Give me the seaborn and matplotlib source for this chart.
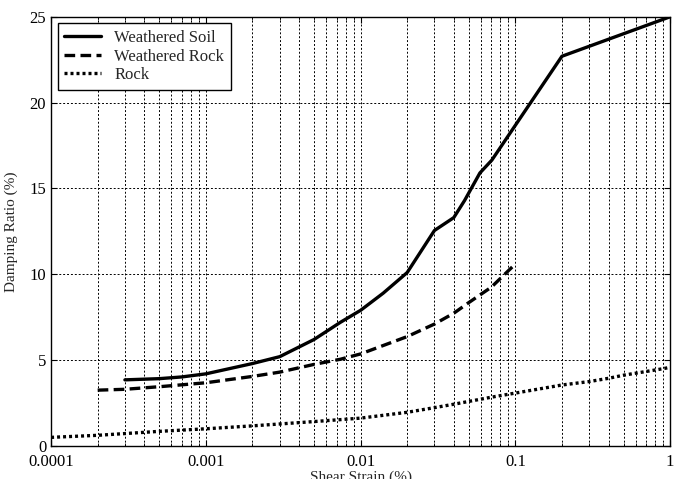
import matplotlib
matplotlib.use("Agg")
import matplotlib.pyplot as plt
import seaborn as sns
import pandas as pd
import numpy as np
from matplotlib.ticker import FixedLocator, FixedFormatter, LogLocator, NullFormatter

soil_x = [0.0003, 0.0005, 0.0007, 0.001, 0.002, 0.003, 0.005, 0.0074, 0.01, 0.014, 0.02, 0.03, 0.04, 0.047, 0.059, 0.0705, 0.2, 1.0]
soil_y = [3.85, 3.92, 4.02, 4.2, 4.8, 5.2, 6.2, 7.2, 7.9, 8.9, 10.1, 12.55, 13.3, 14.3, 15.9, 16.65, 22.7, 25.0]

wrock_x = [0.0002, 0.0003, 0.0005, 0.001, 0.002, 0.003, 0.005, 0.0074, 0.01, 0.02, 0.03, 0.04, 0.05, 0.07, 0.1]
wrock_y = [3.25, 3.3, 3.45, 3.68, 4.05, 4.3, 4.75, 5.05, 5.36, 6.37, 7.1, 7.73, 8.35, 9.25, 10.6]

rock_x = [0.0001, 0.0002, 0.0005, 0.001, 0.002, 0.003, 0.005, 0.01, 0.02, 0.03, 0.04, 0.07, 0.1, 0.2, 0.3, 0.4, 0.5, 0.9, 1.0]
rock_y = [0.5, 0.62, 0.85, 1.0, 1.17, 1.28, 1.42, 1.62, 1.96, 2.23, 2.43, 2.84, 3.08, 3.55, 3.75, 3.94, 4.12, 4.5, 4.58]

series_names = ["Weathered Soil", "Weathered Rock", "Rock"]
xtick_vals = [0.0001, 0.001, 0.01, 0.1, 1]
xtick_labels = ["0.0001", "0.001", "0.01", "0.1", "1"]
ytick_vals = [0, 5, 10, 15, 20, 25]

df = pd.concat([
    pd.DataFrame({"x": soil_x, "y": soil_y, "series": series_names[0]}),
    pd.DataFrame({"x": wrock_x, "y": wrock_y, "series": series_names[1]}),
    pd.DataFrame({"x": rock_x, "y": rock_y, "series": series_names[2]}),
])

sns.set_style("ticks")
plt.rcParams["font.family"] = ["Liberation Serif", "DejaVu Serif"]
plt.rcParams["font.size"] = 11

fig = plt.figure(figsize=(6.81, 4.79), dpi=100)
ax = fig.add_axes([0.075, 0.069, 0.909, 0.896])

styles = {series_names[0]: "-", series_names[1]: (0, (3.2, 1.6)), series_names[2]: (0, (0.9, 0.9))}
for name in series_names:
    sub = df[df["series"] == name]
    sns.lineplot(data=sub, x="x", y="y", ax=ax, color="black", linewidth=2.4,
                 linestyle=styles[name], label=name, estimator=None, sort=False)

ax.set_xscale("log")
ax.set_xlim(1e-4, 1)
ax.set_ylim(0, 25)
ax.xaxis.set_major_locator(FixedLocator(xtick_vals))
ax.xaxis.set_major_formatter(FixedFormatter(xtick_labels))
ax.xaxis.set_minor_locator(LogLocator(base=10, subs=np.arange(2, 10)))
ax.xaxis.set_minor_formatter(NullFormatter())
ax.set_yticks(ytick_vals)

ax.grid(True, which="major", axis="both", color="black", linestyle=(0, (2, 2)), linewidth=0.7)
ax.grid(True, which="minor", axis="x", color="black", linestyle=(0, (2, 2)), linewidth=0.7)

for s in ax.spines.values():
    s.set_visible(True)
    s.set_color("black")
    s.set_linewidth(1.0)
ax.tick_params(which="both", direction="in", top=True, right=True, colors="black", labelsize=12)
ax.tick_params(which="major", length=4)
ax.tick_params(which="minor", length=2.5)
ax.tick_params(axis="x", which="major", pad=6)

ax.set_xlabel("Shear Strain (%)", fontsize=11, labelpad=0)
ax.set_ylabel("Damping Ratio (%)", fontsize=11, labelpad=8)

leg = ax.legend(loc="upper left", frameon=True, fancybox=False, edgecolor="black",
                fontsize=12, handlelength=2.2, borderaxespad=0.4, labelspacing=0.15,
                framealpha=1)
leg.get_frame().set_linewidth(1.0)

fig.savefig("out.png", dpi=100)
